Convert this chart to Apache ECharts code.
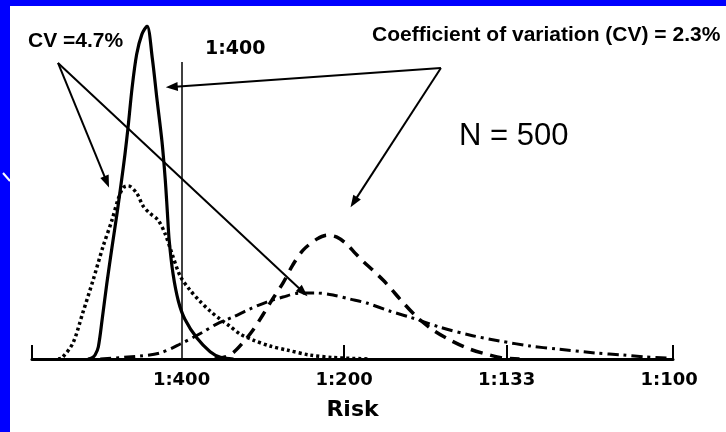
<!DOCTYPE html>
<html>
<head>
<meta charset="utf-8">
<script src="https://cdn.jsdelivr.net/npm/echarts@6/dist/echarts.min.js"></script>
<style>
  html, body { margin: 0; padding: 0; background: #0000ff; }
  #panel { position: absolute; left: 10px; top: 6px; width: 716px; height: 426px; background: #ffffff; }
  #chart { position: absolute; left: 0; top: 0; width: 726px; height: 432px; }
</style>
</head>
<body>
<div id="panel"></div>
<div id="chart"></div>
<script>
// Risk axis in cases per 1000 (1:400 = 2.5, 1:100 = 10); density in relative units (tallest peak = 100)
const tickValues = [2.5, 5, 7.5, 10];
const tickLabels = ['1:400', '1:200', '1:133', '1:100'];

// CV = 2.3%, left distribution (solid)
const solidCurve = [
  [1.06, 0], [1.12, 0.3], [1.17, 1.2], [1.22, 3.6], [1.28, 12.0], [1.35, 22.5], [1.43, 33.5],
  [1.51, 44.0], [1.58, 54.0], [1.63, 61.5], [1.68, 70.0], [1.74, 81.5], [1.81, 91.5], [1.89, 97.5],
  [1.97, 100], [2.05, 90.4], [2.12, 78.4], [2.20, 65.2], [2.25, 53.8], [2.28, 44.8], [2.31, 35.7],
  [2.37, 25.5], [2.45, 17.5], [2.55, 12.0], [2.74, 6.2], [2.94, 2.2], [3.10, 0.5], [3.30, 0]
];
// CV = 4.7%, left distribution (dotted)
const dottedCurve = [
  [0.60, 0], [0.66, 0.3], [0.83, 4.8], [0.98, 13.8], [1.14, 23.7], [1.29, 33.6], [1.43, 41.7],
  [1.52, 47.7], [1.60, 51.4], [1.68, 52.0], [1.81, 49.8], [1.91, 45.9], [2.01, 43.8], [2.14, 41.7],
  [2.25, 37.5], [2.35, 31.8], [2.48, 24.9], [2.63, 20.7], [2.78, 17.4], [2.94, 14.4], [3.09, 12.0],
  [3.24, 9.9], [3.40, 7.5], [3.60, 5.7], [3.86, 3.9], [4.12, 2.7], [4.47, 1.2], [4.83, 0.45], [5.40, 0]
];
// CV = 2.3%, right distribution (dashed)
const dashedCurve = [
  [3.01, 0], [3.17, 0.6], [3.29, 1.8], [3.44, 4.8], [3.60, 8.7], [3.75, 13.2], [3.89, 17.7],
  [4.06, 22.8], [4.21, 28.2], [4.37, 32.7], [4.58, 36.0], [4.74, 37.2], [4.89, 36.6], [5.04, 34.5],
  [5.17, 31.8], [5.29, 29.4], [5.44, 26.7], [5.60, 23.7], [5.74, 20.7], [5.86, 18.0], [6.12, 12.6],
  [6.37, 8.7], [6.63, 5.7], [6.93, 3.0], [7.24, 1.2], [7.44, 0.3], [7.70, 0]
];
// CV = 4.7%, right distribution (dash-dot)
const dashDotCurve = [
  [1.25, 0], [1.86, 0.9], [2.17, 1.8], [2.48, 4.5], [2.83, 8.1], [3.04, 10.5], [3.29, 12.6],
  [3.55, 15.0], [3.81, 17.1], [4.06, 18.6], [4.32, 19.8], [4.58, 19.8], [4.83, 19.2], [5.09, 18.0],
  [5.35, 16.8], [5.70, 14.4], [6.01, 12.6], [6.47, 9.6], [6.93, 7.2], [7.40, 5.4], [7.86, 3.9],
  [8.27, 3.0], [8.87, 1.8], [9.29, 1.2], [9.64, 0.6], [9.96, 0.3]
];

// Threshold marker and annotation arrows, in data units
const thresholdRisk = 2.5;
const thresholdTop = 89.2;
const cvWideFrom = [0.60, 88.9];
const cvWideTo = [[1.35, 53.2], [4.37, 20.1]];
const cvNarrowFrom = [6.49, 87.4];
const cvNarrowTo = [[2.35, 81.7], [5.15, 47.1]];

const arrowLines = [];
cvWideTo.forEach(p => arrowLines.push([{ coord: cvWideFrom, symbol: 'none' }, { coord: p, symbol: 'triangle' }]));
cvNarrowTo.forEach(p => arrowLines.push([{ coord: cvNarrowFrom, symbol: 'none' }, { coord: p, symbol: 'triangle' }]));
arrowLines.push([
  { coord: [thresholdRisk, 0], symbol: 'none', lineStyle: { width: 1.5 } },
  { coord: [thresholdRisk, thresholdTop], symbol: 'none' }
]);

const scanFont = 'DejaVu Sans';
const textFont = 'Liberation Sans';

function curve(data, type, width, extra) {
  return Object.assign({
    type: 'line',
    data: data,
    smooth: 0.3,
    showSymbol: false,
    silent: true,
    lineStyle: { color: '#000', width: width, type: type, cap: 'butt', join: 'round' }
  }, extra || {});
}

const chart = echarts.init(document.getElementById('chart'), null, { renderer: 'canvas' });
chart.setOption({
  animation: false,
  backgroundColor: 'transparent',
  grid: { left: 32, right: 53, top: 26, bottom: 73 },
  xAxis: {
    type: 'value',
    min: 0.2,
    max: 10.06,
    name: 'Risk',
    nameLocation: 'middle',
    nameGap: 40,
    nameTextStyle: { fontFamily: scanFont, fontWeight: 'bold', fontSize: 22, color: '#000' },
    axisLine: { show: true, lineStyle: { color: '#000', width: 3 } },
    axisTick: { show: true, inside: true, length: 14, customValues: [0.2, 5, 7.5, 10.06], lineStyle: { color: '#000', width: 2 } },
    axisLabel: {
      customValues: tickValues,
      margin: 12,
      fontFamily: scanFont,
      fontWeight: 'bold',
      fontSize: 18,
      color: '#000',
      formatter: v => tickLabels[tickValues.indexOf(v)] || ''
    },
    splitLine: { show: false }
  },
  yAxis: { type: 'value', min: 0, max: 100, show: false },
  series: [
    curve(dottedCurve, [3, 3], 3.5),
    curve(dashDotCurve, [11, 5, 3, 5], 3),
    curve(dashedCurve, [12, 8], 3.5),
    curve(solidCurve, 'solid', 3.2, {
      markLine: {
        silent: true,
        symbolSize: [9, 12],
        label: { show: false },
        lineStyle: { color: '#000', width: 2, type: 'solid' },
        itemStyle: { color: '#000' },
        data: arrowLines
      }
    })
  ],
  graphic: [
    { type: 'line', shape: { x1: 3, y1: 173, x2: 10, y2: 181 }, style: { stroke: '#fff', lineWidth: 2 } },
    { type: 'text', left: 28, top: 31, style: { text: 'CV =4.7%', font: 'bold 21px "' + textFont + '"', fill: '#000' } },
    { type: 'text', left: 205, top: 40, style: { text: '1:400', font: 'bold 19px "' + scanFont + '"', fill: '#000' } },
    { type: 'text', left: 372, top: 25, style: { text: 'Coefficient of variation (CV) = 2.3%', font: 'bold 21px "' + textFont + '"', fill: '#000' } },
    { type: 'text', left: 459, top: 121, style: { text: 'N = 500', font: '31px "' + textFont + '"', fill: '#000' } }
  ]
});
</script>
</body>
</html>
